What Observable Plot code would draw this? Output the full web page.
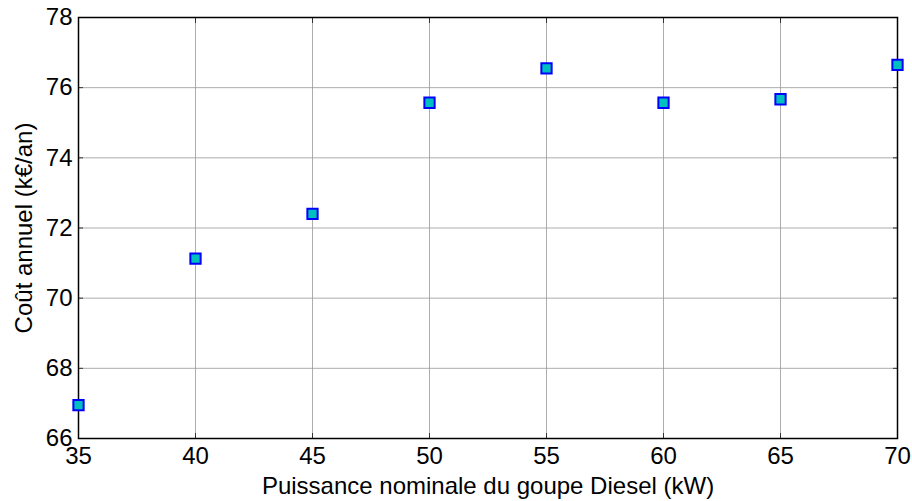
<!DOCTYPE html>
<html>
<head>
<meta charset="utf-8">
<script src="https://cdn.jsdelivr.net/npm/d3@7"></script>
<script src="https://cdn.jsdelivr.net/npm/@observablehq/plot@0.6"></script>
<style>
  html, body { margin: 0; padding: 0; background: #fff; }
  #chart { width: 912px; height: 501px; }
</style>
</head>
<body>
<div id="chart"></div>
<script>
const puissance = [35, 40, 45, 50, 55, 60, 65, 70];
const cout = [66.95, 71.13, 72.4, 75.57, 76.55, 75.57, 75.67, 76.65];
const xTicks = [35, 40, 45, 50, 55, 60, 65, 70];
const yTicks = [66, 68, 70, 72, 74, 76, 78];
const xLabel = "Puissance nominale du goupe Diesel (kW)";
const yLabel = "Coût annuel (k€/an)";

const data = puissance.map((p, i) => ({p, c: cout[i]}));

const chart = Plot.plot({
  width: 912,
  height: 501,
  marginLeft: 78,
  marginRight: 15,
  marginTop: 17,
  marginBottom: 63,
  style: {fontFamily: "Liberation Sans, Arial, sans-serif", fontSize: "24px", color: "#000", background: "#fff"},
  x: {domain: [35, 70]},
  y: {domain: [66, 78]},
  marks: [
    Plot.gridX(xTicks, {stroke: "#999", strokeOpacity: 0.8, strokeWidth: 1}),
    Plot.gridY(yTicks, {stroke: "#999", strokeOpacity: 0.8, strokeWidth: 1}),
    Plot.axisX(xTicks, {anchor: "bottom", tickSize: -5, text: null, stroke: "#333", label: null}),
    Plot.axisX(xTicks, {anchor: "top", tickSize: -5, text: null, stroke: "#333", label: null}),
    Plot.axisY(yTicks, {anchor: "left", tickSize: -5, text: null, stroke: "#333", label: null}),
    Plot.axisY(yTicks, {anchor: "right", tickSize: -5, text: null, stroke: "#333", label: null}),
    Plot.axisX(xTicks, {anchor: "bottom", tickSize: 0, tickPadding: 8, fontSize: 24, label: null, tickFormat: d => String(d)}),
    Plot.axisY(yTicks, {anchor: "left", tickSize: 0, tickPadding: 6, fontSize: 24, label: null, tickFormat: d => String(d)}),
    Plot.text([xLabel], {frameAnchor: "bottom", dy: 48, lineAnchor: "middle", textAnchor: "middle", fontSize: 24, text: d => d, fill: "#000"}),
    Plot.text([yLabel], {frameAnchor: "left", dx: -54, rotate: -90, lineAnchor: "middle", textAnchor: "middle", fontSize: 24, text: d => d, fill: "#000"}),
    Plot.frame({stroke: "#000", strokeWidth: 1.5}),
    Plot.dot(data, {x: "p", y: "c", symbol: "square", r: 5.8, fill: "#00BFBF", stroke: "#0000FF", strokeWidth: 2})
  ]
});
document.getElementById("chart").appendChild(chart);
</script>
</body>
</html>
